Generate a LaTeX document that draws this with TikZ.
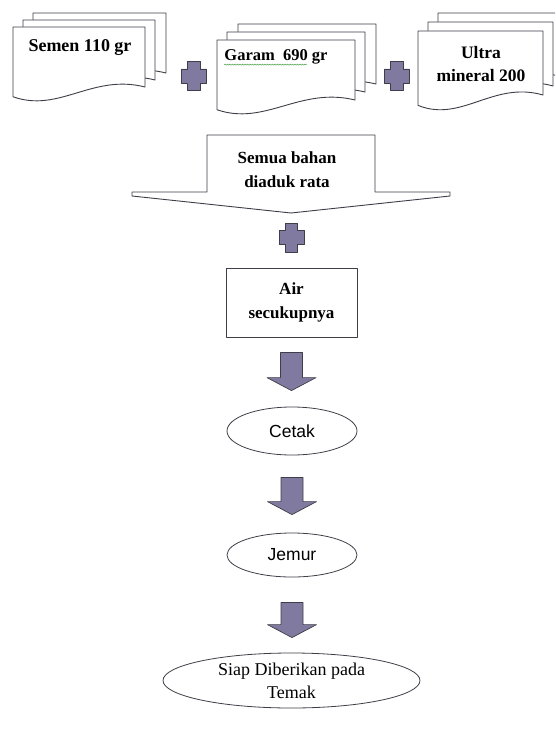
\documentclass[tikz,border=0pt]{standalone}
\usepackage{fontspec}
\setmainfont{Liberation Serif}
\newfontfamily\arialfont{Liberation Sans}
\usetikzlibrary{calc,shapes.geometric,decorations.pathmorphing}
\definecolor{plusgray}{RGB}{128,122,160}
\definecolor{edgegray}{RGB}{62,62,72}
\definecolor{spellgreen}{RGB}{90,170,90}
\newcommand{\docpage}[4]{%
  \draw[pagestyle] (#1,#2) -- ({#1+#3},#2) -- ({#1+#3},{#2+0.8*#4})
    .. controls ({#1+0.6*#3},{#2+0.62*#4}) and ({#1+0.35*#3},{#2+1.15*#4}) .. (#1,{#2+0.93*#4}) -- cycle;}
\newcommand{\blockdown}[4]{%
  \path[blockarrow] let \p1=(#1.south), \p2=(#2.north) in
    ({\x1-11pt},{\y1-#3pt}) -- ({\x1+11pt},{\y1-#3pt}) -- ({\x1+11pt},{\y2+#4pt+13pt})
    -- ({\x1+24.5pt},{\y2+#4pt+13pt}) -- (\x1,{\y2+#4pt}) -- ({\x1-24.5pt},{\y2+#4pt+13pt})
    -- ({\x1-11pt},{\y2+#4pt+13pt}) -- cycle;}
\tikzset{
  pagestyle/.style={draw=edgegray, fill=white, line width=0.9pt},
  toptext/.style={font=\bfseries\fontsize{18}{23}\selectfont, align=center, inner sep=0pt},
  procbox/.style={draw=edgegray, line width=0.9pt, minimum width=131pt, minimum height=69pt, inner sep=0pt,
    align=center, font=\bfseries\fontsize{17}{24}\selectfont},
  stepoval/.style={draw=edgegray, line width=0.8pt, ellipse, inner sep=0pt, align=center},
  blockarrow/.style={draw=edgegray, fill=plusgray, line width=0.7pt},
  plusfill/.style={draw=edgegray, fill=plusgray, line width=0.8pt},
  spellmark/.style={draw=spellgreen, line width=0.6pt, decorate, decoration={snake, amplitude=0.6pt, segment length=2.5pt}},
  plusmark/.pic={\path[plusfill] (-12.5,-7) -- (-6.25,-7) -- (-6.25,-14.5) -- (6.25,-14.5) -- (6.25,-7)
    -- (12.5,-7) -- (12.5,7) -- (6.25,7) -- (6.25,14.5) -- (-6.25,14.5) -- (-6.25,7) -- (-12.5,7) -- cycle;}
}
\begin{document}
\begin{tikzpicture}[x=1pt,y=-1pt,line join=round,line cap=round]
  \useasboundingbox (0,0) rectangle (555,738);
  \clip (0,0) rectangle (555,738);

  \docpage{33}{13}{133}{75}
  \docpage{23}{20}{132}{75}
  \docpage{13}{27}{132}{75}
  \node[toptext] (semen) at (80,48) {Semen 110 gr};

  \docpage{238}{24}{138}{75}
  \docpage{227}{32}{138}{75}
  \docpage{217}{40}{138}{75}
  \node[toptext, font=\bfseries\fontsize{16.5}{23}\selectfont] (garam) at (276,57) {Garam\ \ 690 gr};
  \draw[spellmark] ([yshift=-4pt]garam.base west) -- ([xshift=-21pt,yshift=-4pt]garam.base east);

  \docpage{438}{13}{125}{80}
  \docpage{428}{22}{125}{80}
  \docpage{418}{31}{125}{80}
  \node[toptext, font=\bfseries\fontsize{17.5}{23}\selectfont] (ultra) at (481,64) {Ultra\\mineral 200};

  \coordinate (plusA) at (194,76);
  \coordinate (plusB) at (397,76);
  \coordinate (plusC) at (291.5,237.5);
  \pic at (plusA) {plusmark};
  \pic at (plusB) {plusmark};

  \draw[pagestyle] (207,135) -- (375,135) -- (375,192) -- (450,192) -- (450,196) -- (291,213)
    -- (132,196) -- (132,192) -- (207,192) -- cycle;
  \node[toptext, font=\bfseries\fontsize{17}{24}\selectfont] (aduk) at (287,170) {Semua bahan\\diaduk rata};
  \pic at (plusC) {plusmark};

  \node[procbox] (air) at (291.5,302.5) {Air\\secukupnya};
  \node[stepoval, minimum width=130pt, minimum height=48pt, font=\arialfont\fontsize{17.5}{21}\selectfont] (cetak) at (292,431) {Cetak};
  \node[stepoval, minimum width=130pt, minimum height=44pt, font=\arialfont\fontsize{17.5}{21}\selectfont] (jemur) at (292,555) {Jemur};
  \node[stepoval, minimum width=257pt, minimum height=55pt, font=\fontsize{18}{23}\selectfont] (siap) at (291.5,680.5) {Siap Diberikan pada\\Temak};

  \blockdown{air}{cetak}{15}{16}
  \blockdown{cetak}{jemur}{22}{18}
  \blockdown{jemur}{siap}{25}{15}
\end{tikzpicture}
\end{document}
